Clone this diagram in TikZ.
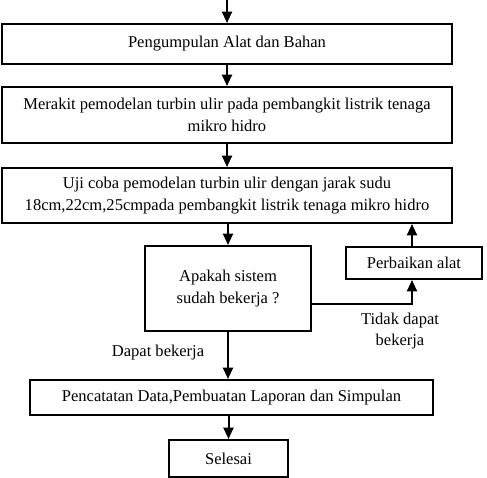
\documentclass[tikz,border=0pt]{standalone}
\usepackage{fontspec}
\setmainfont{Liberation Serif}
\usetikzlibrary{arrows.meta}

\begin{document}
\begin{tikzpicture}[x=0.75pt,y=-0.75pt,
  kotak/.style={draw, line width=1.5pt, rectangle, align=center, inner sep=0pt},
  ukuran/.style 2 args={minimum width=#1*0.75pt, minimum height=#2*0.75pt},
  panah/.style={line width=1.5pt, -{Triangle[width=7.5pt,length=8.5pt]}},
  font=\fontsize{12.4}{16}\selectfont]
\useasboundingbox (0,0) rectangle (487,478);
\coordinate (mulai) at (227,0); % awal alur dari atas
\node[kotak, ukuran={450}{40}] (alat) at (227,44) {Pengumpulan Alat dan Bahan};
\node[kotak, ukuran={450}{56}] (rakit) at (227,115) {Merakit pemodelan turbin ulir pada pembangkit listrik tenaga\\mikro hidro};
\node[kotak, ukuran={450}{55}] (uji) at (227,195.5) {Uji coba pemodelan turbin ulir dengan jarak sudu\\18cm,22cm,25cmpada pembangkit listrik tenaga mikro hidro};
\node[kotak, ukuran={166}{85}] (cek) at (228,288.5) {Apakah sistem\\sudah bekerja ?};
\node[kotak, ukuran={136}{32}] (perbaikan) at (414,263) {Perbaikan alat};
\node[kotak, ukuran={403}{35}] (catat) at (231.5,397.5) {Pencatatan Data,Pembuatan Laporan dan Simpulan};
\node[kotak, ukuran={119}{37}] (selesai) at (228.5,458.5) {Selesai};
% alur utama
\draw[panah] (mulai) -- (alat);
\draw[panah] (alat) -- (rakit);
\draw[panah] (rakit) -- (uji);
\draw[panah] (uji.south -| cek.north) -- (cek);
\draw[panah] (cek.south) -- (cek.south |- catat.north);
\draw[panah] (catat.south -| selesai.north) -- (selesai);
% jalur perbaikan
\coordinate (belok) at (412,304);
\draw[panah] (cek.east |- belok) -- (belok) -- (belok |- perbaikan.south);
\draw[panah] (belok |- perbaikan.north) -- (belok |- uji.south);
\node (ya) at (158,353) {Dapat bekerja};
\node[align=center] (tidak) at (400,331) {Tidak dapat\\bekerja};
\end{tikzpicture}
\end{document}
